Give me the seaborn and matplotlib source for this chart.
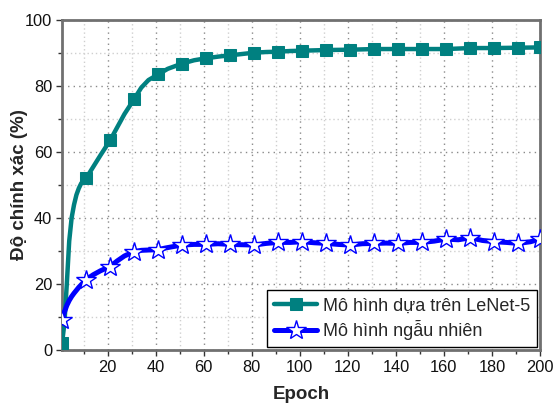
import matplotlib
matplotlib.use("Agg")
import matplotlib.pyplot as plt
import seaborn as sns
import numpy as np
from matplotlib.ticker import MultipleLocator

teal_epochs = [1, 2, 3, 4, 5, 6, 7, 8, 9, 10, 11, 14, 17, 21, 24, 27, 31, 34, 37, 41, 45, 51, 56,
               61, 66, 71, 76, 81, 86, 91, 96, 101, 111, 121, 131, 141, 151, 161, 171, 181, 191, 200]
teal_acc = [2, 8, 20, 33, 40, 44, 47, 49, 50.5, 51.3, 52, 55.5, 59, 63.5, 67.5, 71.5, 76, 79.5, 81.8,
            83.5, 85.2, 86.8, 87.8, 88.4, 88.9, 89.3, 89.7, 90.1, 90.3, 90.4, 90.6, 90.7, 90.9, 91.0,
            91.2, 91.2, 91.2, 91.2, 91.5, 91.5, 91.6, 91.7]

blue_epochs = [1, 2, 3, 4, 5, 6, 8, 11, 14, 17, 21, 24, 27, 31, 34, 37, 41, 44, 47, 51, 56, 61, 66,
               71, 76, 81, 86, 91, 96, 101, 106, 111, 116, 121, 126, 131, 136, 141, 146, 151, 156,
               161, 166, 171, 176, 181, 186, 191, 196, 200]
blue_acc = [9, 11.5, 13.5, 15, 16.2, 17.2, 19, 21.3, 22.8, 24, 25.3, 27, 28.5, 29.8, 30.2, 30.3,
            30.4, 30.9, 31.3, 31.8, 32.0, 32.0, 32.2, 32.0, 31.9, 31.8, 32.3, 32.6, 32.6, 32.8,
            32.5, 32.3, 32.0, 31.8, 32.2, 32.3, 32.4, 32.3, 32.6, 32.6, 33.0, 33.6, 33.4, 34.0,
            33.2, 32.8, 32.6, 32.3, 32.8, 33.6]

series_names = ["Mô hình dựa trên LeNet-5", "Mô hình ngẫu nhiên"]
x_label = "Epoch"
y_label = "Độ chính xác (%)"

sns.set_theme(style="white")
plt.rcParams['font.family'] = ['Liberation Sans', 'DejaVu Sans']

fig = plt.figure(figsize=(5.56, 4.07), dpi=100)
ax = fig.add_axes([62/556, 1-350/407, (540-62)/556, (350-20)/407])

def mark_idx(ep):
    return [i for i, e in enumerate(ep) if (e - 1) % 10 == 0 or e == 200]

sns.lineplot(x=teal_epochs, y=teal_acc, ax=ax, color="#008080", lw=3.2,
             marker="s", markersize=8, markevery=mark_idx(teal_epochs),
             markeredgecolor="#008080", label=series_names[0], zorder=3)
sns.lineplot(x=blue_epochs, y=blue_acc, ax=ax, color="#0000ff", lw=3.6,
             marker="*", markersize=15, markevery=mark_idx(blue_epochs),
             markerfacecolor="white", markeredgecolor="#0000ff", markeredgewidth=1.0,
             label=series_names[1], zorder=4)

ax.set_xlim(1, 200)
ax.set_ylim(0, 100)
ax.xaxis.set_major_locator(MultipleLocator(20))
ax.xaxis.set_minor_locator(MultipleLocator(10))
ax.yaxis.set_major_locator(MultipleLocator(20))
ax.yaxis.set_minor_locator(MultipleLocator(10))
ax.set_xticks([20, 40, 60, 80, 100, 120, 140, 160, 180, 200])

ax.grid(which="major", color="#8a8a8a", linestyle=(0, (1, 3)), linewidth=1.0)
ax.grid(which="minor", color="#cfcfcf", linestyle=(0, (1, 2)), linewidth=1.0)
ax.set_axisbelow(True)

for s in ax.spines.values():
    s.set_color("#707070")
    s.set_linewidth(2.0)

ax.tick_params(which="major", direction="out", length=4, width=1.0, color="#333333",
               labelsize=11.8, labelcolor="#111111", bottom=True, left=True, pad=3)
ax.tick_params(which="minor", direction="out", length=3, width=1.0, color="#333333",
               bottom=True, left=True)

ax.set_xlabel(x_label, fontsize=13.5, fontweight="bold", labelpad=8)
ax.set_ylabel(y_label, fontsize=13.5, fontweight="bold")
ax.yaxis.set_label_coords(-34/478, 0.5)

leg = ax.legend(loc="lower right", fontsize=13, frameon=True, fancybox=False,
                edgecolor="black", framealpha=1, handlelength=2.4, borderpad=0.4,
                labelspacing=0.3, handletextpad=0.3, borderaxespad=0.15)
leg.get_frame().set_linewidth(1.0)

fig.savefig("out.png", dpi=100)
